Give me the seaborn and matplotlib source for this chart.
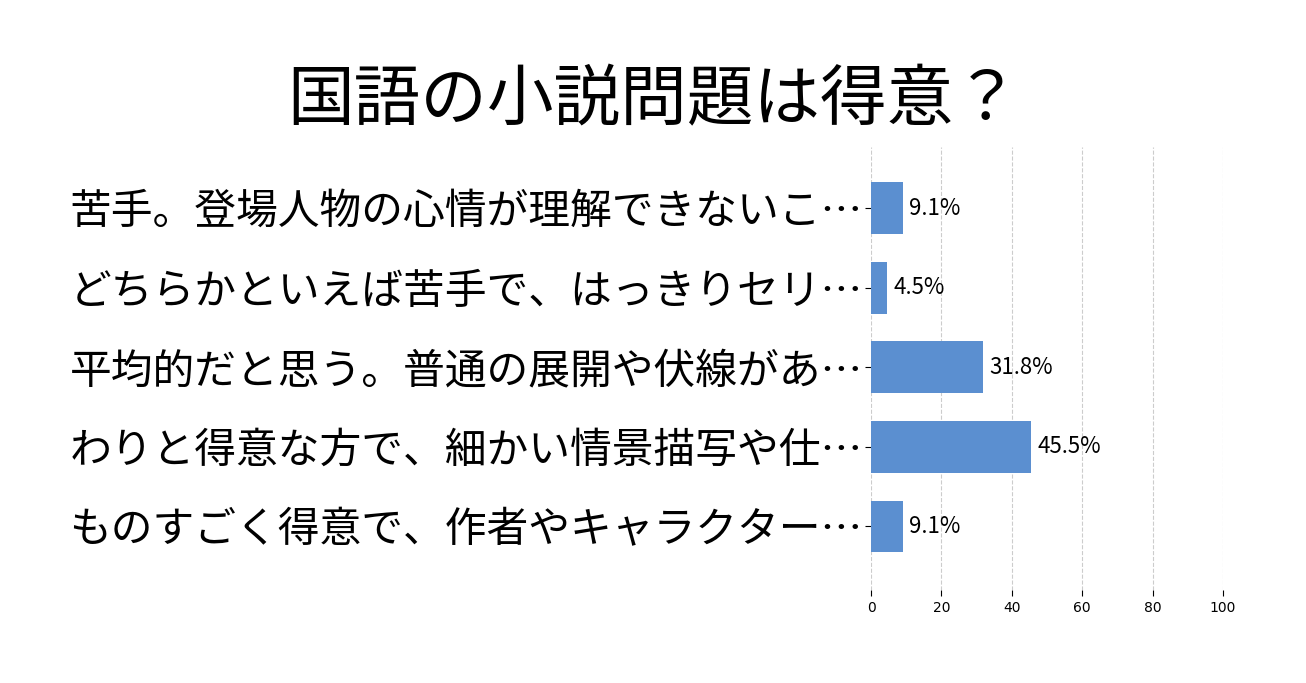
import pandas as pd
import matplotlib
matplotlib.use("Agg")
import matplotlib.pyplot as plt
import seaborn as sns

title = "国語の小説問題は得意？"
answers = [
    "苦手。登場人物の心情が理解できないこ…",
    "どちらかといえば苦手で、はっきりセリ…",
    "平均的だと思う。普通の展開や伏線があ…",
    "わりと得意な方で、細かい情景描写や仕…",
    "ものすごく得意で、作者やキャラクター…",
]
percent = [9.1, 4.5, 31.8, 45.5, 9.1]
x_ticks = [0, 20, 40, 60, 80, 100]

jp = ["Noto Sans CJK JP", "DejaVu Sans"]

sns.set_style("white")
plt.rcParams["font.family"] = ["DejaVu Sans", "Noto Sans CJK JP"]
plt.rcParams["text.color"] = "black"
plt.rcParams["xtick.color"] = "black"
plt.rcParams["ytick.color"] = "black"

df = pd.DataFrame({"answer": answers, "percent": percent})

fig = plt.figure(figsize=(13.06, 6.83), dpi=100)
ax = fig.add_axes([0.667, 0.136, 0.2695, 0.649])

sns.barplot(data=df, x="percent", y="answer", orient="h", color="#5b8fd0",
            saturation=1, width=0.65, linewidth=0, ax=ax)

for i, v in enumerate(percent):
    ax.text(v + 1.8, i, f"{v}%", va="center", ha="left", fontsize=16,
            family=jp, color="black")

ax.set_xlim(0, 100)
ax.set_ylim(4.8, -0.77)
ax.set_xticks(x_ticks)
ax.set_xticklabels([str(t) for t in x_ticks], fontsize=10)
ax.set_yticks(range(len(answers)))
ax.set_yticklabels(answers, fontsize=30.1, family=jp)
ax.tick_params(axis="y", length=4, pad=2, left=True, colors="black")
ax.tick_params(axis="x", length=4, pad=4, bottom=True, colors="black")
ax.set_xlabel("")
ax.set_ylabel("")
ax.xaxis.grid(True, linestyle="--", color="#cccccc", linewidth=0.8)
ax.set_axisbelow(True)
for s in ax.spines.values():
    s.set_visible(False)

fig.text(0.5005, 0.852, title, ha="center", va="center", fontsize=48,
         family=jp, color="black")

fig.savefig("out.png", dpi=100)
